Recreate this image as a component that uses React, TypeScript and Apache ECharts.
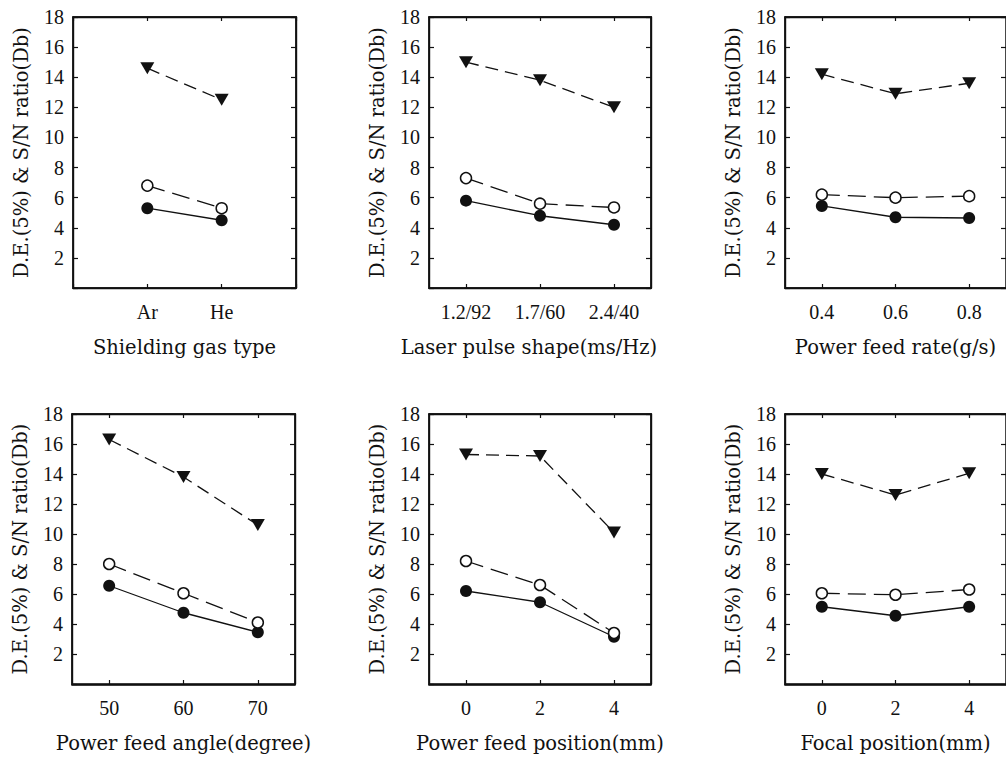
import React, { useEffect, useRef } from "react";
import * as echarts from "echarts";

// ---- data ----
const gasTypes = ["Ar", "He"];
const gasFilled = [5.3, 4.5];
const gasOpen = [6.8, 5.3];
const gasTri = [14.6, 12.5];

const pulseShapes = ["1.2/92", "1.7/60", "2.4/40"];
const pulseFilled = [5.8, 4.8, 4.2];
const pulseOpen = [7.3, 5.6, 5.35];
const pulseTri = [15.0, 13.8, 12.0];

const feedRates = ["0.4", "0.6", "0.8"];
const rateFilled = [5.45, 4.7, 4.65];
const rateOpen = [6.2, 6.0, 6.1];
const rateTri = [14.2, 12.9, 13.6];

const feedAngles = ["50", "60", "70"];
const angleFilled = [6.55, 4.75, 3.45];
const angleOpen = [8.0, 6.05, 4.1];
const angleTri = [16.3, 13.8, 10.6];

const feedPositions = ["0", "2", "4"];
const posFilled = [6.2, 5.45, 3.15];
const posOpen = [8.2, 6.6, 3.4];
const posTri = [15.3, 15.2, 10.1];

const focalPositions = ["0", "2", "4"];
const focalFilled = [5.15, 4.55, 5.15];
const focalOpen = [6.05, 5.95, 6.3];
const focalTri = [14.0, 12.6, 14.05];

const yLabel = "D.E.(5%) & S/N ratio(Db)";
const xNames = [
  "Shielding gas type",
  "Laser pulse shape(ms/Hz)",
  "Power feed rate(g/s)",
  "Power feed angle(degree)",
  "Power feed position(mm)",
  "Focal position(mm)",
];

const panels = [
  { cats: gasTypes, filled: gasFilled, open: gasOpen, tri: gasTri, pad: true },
  { cats: pulseShapes, filled: pulseFilled, open: pulseOpen, tri: pulseTri, pad: false },
  { cats: feedRates, filled: rateFilled, open: rateOpen, tri: rateTri, pad: false },
  { cats: feedAngles, filled: angleFilled, open: angleOpen, tri: angleTri, pad: false },
  { cats: feedPositions, filled: posFilled, open: posOpen, tri: posTri, pad: false },
  { cats: focalPositions, filled: focalFilled, open: focalOpen, tri: focalTri, pad: false },
];

// ---- layout (each panel is its own chart box) ----
const boxes = [
  { left: 0, top: 0, width: 340, height: 379 },
  { left: 340, top: 0, width: 340, height: 379 },
  { left: 680, top: 0, width: 326, height: 379 },
  { left: 0, top: 379, width: 340, height: 379 },
  { left: 340, top: 379, width: 340, height: 379 },
  { left: 680, top: 379, width: 326, height: 379 },
];
const gridBoxes = [
  { left: 73, top: 17, width: 223, height: 271 },
  { left: 89, top: 17, width: 222, height: 271 },
  { left: 105, top: 17, width: 222, height: 271 },
  { left: 72, top: 35, width: 223, height: 271 },
  { left: 89, top: 35, width: 222, height: 271 },
  { left: 105, top: 35, width: 222, height: 271 },
];
const nameShift = [0, 22, 0, 0, 0, 0];

const INK = "#111";
const tickFont = "'Liberation Serif', 'Times New Roman', serif";
const nameFont = "'DejaVu Serif', serif";

function line(width: number) {
  return { show: true, onZero: false, lineStyle: { color: INK, width } };
}
function ticks(length: number) {
  return {
    show: true,
    inside: true,
    length,
    alignWithLabel: true,
    lineStyle: { color: INK, width: 1.2 },
  };
}

function buildOption(i: number) {
  const p = panels[i];
  const g = gridBoxes[i];
  const cats = p.pad ? ["", ...p.cats, ""] : p.cats;
  const wrap = (arr: number[]) => (p.pad ? ["-", ...arr, "-"] : arr);
  return {
    animation: false,
    graphic: [
      {
        type: "rect",
        silent: true,
        z: 50,
        shape: { x: g.left, y: g.top, width: g.width, height: g.height },
        style: { fill: "none", stroke: INK, lineWidth: 1.4 },
      },
    ],
    grid: [{ ...g, show: true, borderColor: INK, borderWidth: 1.4 }],
    xAxis: [
      {
        type: "category",
        gridIndex: 0,
        position: "bottom",
        data: cats,
        boundaryGap: !p.pad,
        axisLine: line(1.4),
        axisTick: ticks(4),
        axisLabel: { color: INK, fontFamily: tickFont, fontSize: 20, margin: 14, interval: 0 },
        splitLine: { show: false },
        name: xNames[i],
        nameLocation: "middle",
        nameGap: 49,
        nameTextStyle: {
          color: INK,
          fontFamily: nameFont,
          fontSize: 19.5,
          padding: [0, nameShift[i], 0, 0],
        },
      },
      {
        type: "category",
        gridIndex: 0,
        position: "top",
        data: cats,
        boundaryGap: !p.pad,
        axisLine: line(1.4),
        axisTick: ticks(4),
        axisLabel: { show: false },
        splitLine: { show: false },
      },
    ],
    yAxis: [
      {
        type: "value",
        gridIndex: 0,
        position: "left",
        min: 0,
        max: 18,
        interval: 2,
        axisLine: line(1.4),
        axisTick: ticks(5),
        axisLabel: {
          color: INK,
          fontFamily: tickFont,
          fontSize: 20,
          margin: 9,
          formatter: (v: number) => (v === 0 ? "" : String(v)),
        },
        splitLine: { show: false },
        name: yLabel,
        nameLocation: "middle",
        nameGap: 42,
        nameTextStyle: { color: INK, fontFamily: nameFont, fontSize: 19.5 },
      },
      {
        type: "value",
        gridIndex: 0,
        position: "right",
        min: 0,
        max: 18,
        interval: 2,
        axisLine: line(1.4),
        axisTick: ticks(5),
        axisLabel: { show: false },
        splitLine: { show: false },
      },
    ],
    series: [
      {
        type: "line",
        xAxisIndex: 0,
        yAxisIndex: 0,
        data: wrap(p.filled),
        symbol: "circle",
        symbolSize: 12,
        itemStyle: { color: INK },
        lineStyle: { color: INK, width: 1.3, type: "solid" },
      },
      {
        type: "line",
        xAxisIndex: 0,
        yAxisIndex: 0,
        data: wrap(p.open),
        symbol: "circle",
        symbolSize: 11,
        itemStyle: { color: "#fff", borderColor: INK, borderWidth: 1.5 },
        lineStyle: { color: INK, width: 1.3, type: [18, 8] },
      },
      {
        type: "line",
        xAxisIndex: 0,
        yAxisIndex: 0,
        data: wrap(p.tri),
        symbol: "triangle",
        symbolRotate: 180,
        symbolSize: [14, 12],
        itemStyle: { color: INK },
        lineStyle: { color: INK, width: 1.3, type: [13, 7] },
      },
    ],
  };
}

function Panel({ index }: { index: number }) {
  const ref = useRef<HTMLDivElement>(null);
  useEffect(() => {
    if (!ref.current) return;
    const chart = echarts.init(ref.current, undefined, { renderer: "svg" });
    chart.setOption(buildOption(index) as any);
    return () => chart.dispose();
  }, [index]);
  const b = boxes[index];
  return (
    <div
      ref={ref}
      style={{ position: "absolute", left: b.left, top: b.top, width: b.width, height: b.height }}
    />
  );
}

export default function App() {
  return (
    <div
      style={{
        position: "absolute",
        left: 0,
        top: 0,
        width: 1006,
        height: 758,
        background: "#fff",
        overflow: "hidden",
      }}
    >
      {panels.map((_, i) => (
        <Panel key={i} index={i} />
      ))}
    </div>
  );
}
